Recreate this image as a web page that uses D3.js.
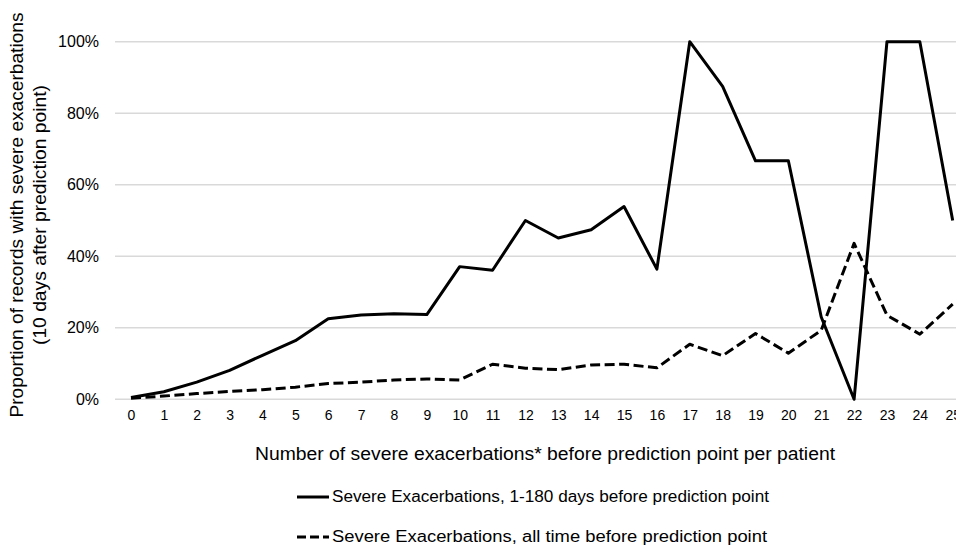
<!DOCTYPE html>
<html>
<head>
<meta charset="utf-8">
<script src="https://cdn.jsdelivr.net/npm/d3@7"></script>
<style>
  body { margin: 0; background: #fff; }
  text { font-family: "Liberation Sans", Arial, sans-serif; fill: #000; }
</style>
</head>
<body>
<div id="container"></div>
<script>
// Données
const counts = d3.range(0, 26);
const recent180 = [0.5, 2.1, 4.8, 8.1, 12.3, 16.4, 22.5, 23.6, 23.9, 23.7, 37.1, 36.1, 50.0, 45.1, 47.4, 53.9, 36.4, 100, 87.5, 66.7, 66.7, 23.0, 0, 100, 100, 50.0];
const allTime = [0.3, 0.9, 1.6, 2.2, 2.7, 3.4, 4.4, 4.8, 5.4, 5.7, 5.4, 9.8, 8.7, 8.3, 9.6, 9.8, 8.8, 15.4, 12.2, 18.4, 12.9, 19.3, 43.6, 23.5, 18.2, 26.6];
const yTicks = [0, 20, 40, 60, 80, 100];
const seriesNames = [
  "Severe Exacerbations, 1-180 days before prediction point",
  "Severe Exacerbations, all time before prediction point"
];

const width = 956;
const height = 546;

const svg = d3.select("#container")
  .append("svg")
  .attr("width", width)
  .attr("height", height);

// Échelles
const x = d3.scaleLinear().domain([0, 25]).range([131, 952.7]);
const y = d3.scaleLinear().domain([0, 100]).range([399.3, 41.7]);

// Grille horizontale
svg.append("g")
  .selectAll("line")
  .data(yTicks)
  .join("line")
  .attr("x1", 115)
  .attr("x2", width)
  .attr("y1", d => y(d))
  .attr("y2", d => y(d))
  .attr("stroke", "#d9d9d9")
  .attr("stroke-width", 1.5);

// Axe Y
const yAxis = d3.axisLeft(y)
  .tickValues(yTicks)
  .tickFormat(d => d + "%")
  .tickSize(0)
  .tickPadding(0);

svg.append("g")
  .attr("transform", "translate(99,0)")
  .call(yAxis)
  .call(g => g.select(".domain").remove())
  .selectAll("text")
  .attr("font-size", "16px")
  .attr("font-family", "Liberation Sans, Arial, sans-serif")
  .attr("fill", "#000");

// Axe X
const xAxis = d3.axisBottom(x)
  .tickValues(counts)
  .tickFormat(d3.format("d"))
  .tickSize(0)
  .tickPadding(0);

svg.append("g")
  .attr("transform", "translate(0,410)")
  .call(xAxis)
  .call(g => g.select(".domain").remove())
  .selectAll("text")
  .attr("font-size", "14px")
  .attr("font-family", "Liberation Sans, Arial, sans-serif")
  .attr("fill", "#000");

// Courbes
const line = d3.line()
  .x((d, i) => x(counts[i]))
  .y(d => y(d));

svg.append("path")
  .datum(recent180)
  .attr("d", line)
  .attr("fill", "none")
  .attr("stroke", "#000")
  .attr("stroke-width", 3)
  .attr("stroke-linejoin", "round");

svg.append("path")
  .datum(allTime)
  .attr("d", line)
  .attr("fill", "none")
  .attr("stroke", "#000")
  .attr("stroke-width", 3)
  .attr("stroke-dasharray", "10,4.5")
  .attr("stroke-linejoin", "round");

// Titres des axes
svg.append("text")
  .attr("transform", "translate(23,215) rotate(-90)")
  .attr("text-anchor", "middle")
  .attr("font-size", "18px")
  .attr("textLength", 405)
  .attr("lengthAdjust", "spacingAndGlyphs")
  .text("Proportion of records with severe exacerbations");

svg.append("text")
  .attr("transform", "translate(46,215) rotate(-90)")
  .attr("text-anchor", "middle")
  .attr("font-size", "18px")
  .attr("textLength", 260)
  .attr("lengthAdjust", "spacingAndGlyphs")
  .text("(10 days after prediction point)");

svg.append("text")
  .attr("x", 545)
  .attr("y", 460)
  .attr("text-anchor", "middle")
  .attr("font-size", "17.5px")
  .attr("textLength", 580)
  .attr("lengthAdjust", "spacingAndGlyphs")
  .text("Number of severe exacerbations* before prediction point per patient");

// Légende
const legend = svg.append("g");
const legendY = [497, 537];
const legendW = [437, 435];
seriesNames.forEach((name, i) => {
  legend.append("line")
    .attr("x1", 297)
    .attr("x2", 329)
    .attr("y1", legendY[i])
    .attr("y2", legendY[i])
    .attr("stroke", "#000")
    .attr("stroke-width", 3)
    .attr("stroke-dasharray", i === 1 ? "9,4" : null);
  legend.append("text")
    .attr("x", 332)
    .attr("y", legendY[i] + 5)
    .attr("font-size", "16px")
    .attr("textLength", legendW[i])
    .attr("lengthAdjust", "spacingAndGlyphs")
    .text(name);
});
</script>
</body>
</html>
